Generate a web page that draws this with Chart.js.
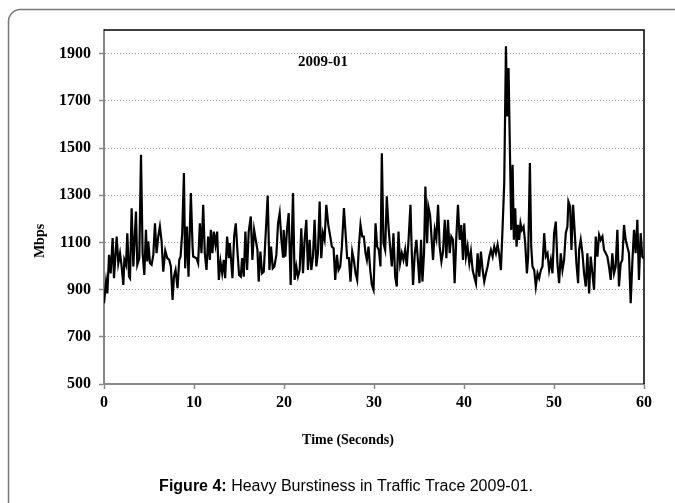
<!DOCTYPE html>
<html>
<head>
<meta charset="utf-8">
<script src="https://cdn.jsdelivr.net/npm/chart.js@4/dist/chart.umd.min.js"></script>
<style>
  html, body { margin: 0; padding: 0; background: #fff; }
  #wrap { width: 675px; height: 503px; }
</style>
</head>
<body>
<div id="wrap"><canvas id="trace" width="675" height="503"></canvas></div>
<script>
// time in seconds and throughput in Mbps
var timeSec = [
  0.0, 0.23, 0.37, 0.56, 0.74, 0.96, 1.11, 1.41, 1.59, 1.78, 1.96, 2.15, 2.26, 2.44, 2.59, 2.78, 2.89, 3.07, 3.26, 3.55,
  3.7, 3.92, 4.11, 4.29, 4.48, 4.66, 4.81, 4.92, 5.11, 5.29, 5.48, 5.66, 5.84, 6.03, 6.21, 6.4, 6.58, 6.81, 7.03, 7.25,
  7.43, 7.62, 7.77, 7.95, 8.17, 8.36, 8.51, 8.69, 8.88, 9.02, 9.21, 9.39, 9.65, 9.84,
  9.91, 10.28, 10.46, 10.65, 10.83, 11.02, 11.2, 11.39, 11.57, 11.76, 11.87, 12.05, 12.2, 12.39, 12.57, 12.76, 12.94, 13.13,
  13.31, 13.46, 13.68, 13.87, 13.98, 14.12, 14.27, 14.46, 14.64, 14.83, 15.01, 15.2, 15.34, 15.53, 15.71, 15.9, 16.08,
  16.31, 16.49, 16.68, 16.86, 17.05, 17.19, 17.38, 17.56, 17.75, 17.93, 18.19, 18.38, 18.56, 18.75, 18.93, 19.15, 19.34,
  19.52, 19.71, 19.89,
  19.96, 20.15, 20.33, 20.52, 20.74, 21.0, 21.18, 21.37, 21.55, 21.74, 21.92, 22.11, 22.29, 22.48, 22.66, 22.85, 23.03,
  23.22, 23.4, 23.59, 23.77, 23.96, 24.14, 24.33, 24.51, 24.7, 24.92, 25.14, 25.32, 25.51, 25.69, 25.88, 26.06, 26.25,
  26.43, 26.66, 26.84, 27.02, 27.21, 27.39, 27.58, 27.76, 27.95, 28.13, 28.32, 28.5, 28.69, 28.87, 29.06, 29.21, 29.39,
  29.58, 29.76, 29.95,
  30.17, 30.35, 30.54, 30.72, 30.87, 31.05, 31.24, 31.42, 31.61, 31.79, 31.98, 32.16, 32.35, 32.53, 32.72, 32.9, 33.09,
  33.27, 33.46, 33.64, 33.83, 34.05, 34.2, 34.34, 34.53, 34.71, 34.9, 35.05, 35.23, 35.38, 35.56, 35.71, 35.9, 36.04,
  36.23, 36.41, 36.56, 36.75, 36.93, 37.12, 37.3, 37.49, 37.67, 37.86, 38.04, 38.22, 38.41, 38.59, 38.78, 38.96, 39.15,
  39.33, 39.52, 39.7, 39.89,
  40.03, 40.22, 40.4, 40.59, 40.77, 40.96, 41.14, 41.33, 41.51, 41.7, 41.88, 42.07, 42.25, 42.44, 42.62, 42.81, 42.99,
  43.18, 43.36, 43.55, 43.73, 43.92, 44.1, 44.29, 44.47, 44.66, 44.8, 44.95, 45.1, 45.25, 45.4, 45.54, 45.69, 45.84,
  45.99, 46.13, 46.28, 46.43, 46.62, 46.8, 46.99, 47.13, 47.32, 47.47, 47.61, 47.8, 47.98, 48.17, 48.35, 48.54, 48.72,
  48.91, 49.09, 49.28, 49.46, 49.65, 49.83,
  50.01, 50.2, 50.38, 50.57, 50.75, 50.94, 51.12, 51.31, 51.49, 51.6, 51.79, 51.94, 52.12, 52.31, 52.49, 52.68, 52.79,
  52.97, 53.16, 53.34, 53.53, 53.71, 53.9, 54.08, 54.27, 54.45, 54.64, 54.82, 55.01, 55.19, 55.38, 55.56, 55.75, 55.93,
  56.11, 56.3, 56.48, 56.67, 56.85, 57.04, 57.22, 57.41, 57.59, 57.78, 57.96, 58.15, 58.33, 58.52, 58.7, 58.89, 59.07,
  59.26, 59.44, 59.63, 59.81, 60.0
];
var mbps = [
  842, 934, 884, 1047, 969, 1118, 948, 1125, 1012, 1054, 998, 920, 1026, 1005, 1139, 955, 948, 1245, 998, 1231,
  1005, 1033, 1471, 1054, 962, 1153, 1019, 1104, 1012, 1005, 1047, 1181, 1054, 1125, 1167, 1104, 976, 1065, 1033, 1026,
  998, 856, 955, 983, 906, 1026, 1040, 1139, 1394, 990, 1167, 955, 1309, 1082,
  1040, 1033, 1012, 1181, 1054, 1259, 1054, 983, 1125, 1026, 1153, 1054, 1146, 1090, 1146, 941, 1019, 969,
  1026, 948, 1125, 1033, 1097, 1026, 948, 1125, 1181, 1061, 962, 955, 1033, 955, 1146, 983, 1146,
  1210, 1026, 1153, 1111, 1068, 934, 1061, 969, 976, 1111, 1299, 983, 1082, 990, 998, 1047, 1181,
  1224, 1111, 1040,
  1153, 1040, 1153, 1224, 920, 1309, 941, 998, 955, 983, 1160, 969, 1111, 1196, 983, 1111, 983,
  1040, 1196, 998, 1054, 1273, 1033, 1139, 1111, 1259, 1174, 1125, 1082, 1075, 941, 1047, 983, 998,
  1082, 1245, 1139, 1033, 1033, 934, 1061, 1026, 969, 941, 1082, 1174, 1125, 1125, 1054, 1026, 1082,
  983, 920, 899,
  1181, 1082, 1068, 998, 1478, 1097, 1068, 1295, 1167, 1082, 998, 1139, 955, 913, 1146, 1012, 1054,
  1026, 1068, 998, 1104, 1259, 1054, 920, 1054, 1111, 1012, 927, 1111, 934, 1054, 1337, 1097, 1252,
  1217, 1111, 1026, 1153, 1118, 1259, 1082, 1019, 1061, 1196, 1033, 1196, 1054, 1125, 1111, 927, 1125,
  1259, 1111, 1174, 1026,
  1181, 1040, 1082, 1012, 1061, 983, 955, 927, 1054, 955, 1061, 983, 934, 969, 998, 1040, 1068,
  1040, 1082, 1054, 1090, 1047, 983, 1167, 1351, 1931, 1634, 1839, 1493, 1153, 1429, 1111, 1245, 1082,
  1174, 1111, 1181, 1153, 1167, 1097, 969, 1040, 1436, 1082, 998, 983, 913, 969, 948, 983, 998,
  1139, 1040, 1054, 983, 1026, 969,
  1139, 1188, 1012, 927, 1054, 983, 1026, 1139, 1167, 1273, 1252, 1068, 1259, 1139, 1012, 927, 1068,
  1111, 1054, 969, 913, 1054, 884, 1040, 969, 899, 1125, 1040, 1132, 1111, 1125, 1068, 1054, 1040,
  998, 941, 1054, 969, 998, 1153, 913, 1012, 1026, 1174, 1111, 1082, 1054, 842, 1012, 1153, 1054,
  1196, 941, 1139, 1040, 1030
];
var xTicks = [0, 10, 20, 30, 40, 50, 60];
var yTicks = [500, 700, 900, 1100, 1300, 1500, 1700, 1900];

var serifBold = { family: "'Liberation Serif', 'Times New Roman', serif", size: 16, weight: "bold" };

// frame, labels and caption drawn on top of the chart
var decorPlugin = {
  id: "decor",
  afterDraw: function (chart) {
    var ctx = chart.ctx;
    var area = chart.chartArea;
    ctx.save();
    // outer rounded box
    ctx.strokeStyle = "#777";
    ctx.lineWidth = 1.5;
    ctx.beginPath();
    ctx.moveTo(8.5, 510);
    ctx.lineTo(8.5, 21);
    ctx.arcTo(8.5, 9.5, 20, 9.5, 12);
    ctx.lineTo(680, 9.5);
    ctx.stroke();
    // black top and right edge of the plot
    ctx.strokeStyle = "#000";
    ctx.lineWidth = 1.5;
    ctx.beginPath();
    ctx.moveTo(area.left, area.top);
    ctx.lineTo(area.right, area.top);
    ctx.lineTo(area.right, area.bottom);
    ctx.stroke();

    ctx.fillStyle = "#000";
    ctx.textAlign = "center";
    ctx.textBaseline = "middle";
    ctx.font = "bold 15px 'Liberation Serif', serif";
    ctx.fillText("2009-01", 323, 62);

    ctx.font = "bold 14px 'Liberation Serif', serif";
    ctx.fillText("Time (Seconds)", 348, 440);
    ctx.save();
    ctx.translate(40, 241);
    ctx.rotate(-Math.PI / 2);
    ctx.fillText("Mbps", 0, 0);
    ctx.restore();

    // caption
    var part1 = "Figure 4:";
    var part2 = " Heavy Burstiness in Traffic Trace 2009-01.";
    ctx.font = "bold 16px 'Liberation Sans', Arial, sans-serif";
    var w1 = ctx.measureText(part1).width;
    ctx.font = "16px 'Liberation Sans', Arial, sans-serif";
    var w2 = ctx.measureText(part2).width;
    var x0 = 346 - (w1 + w2) / 2;
    ctx.textAlign = "left";
    ctx.font = "bold 16px 'Liberation Sans', Arial, sans-serif";
    ctx.fillText(part1, x0, 487);
    ctx.font = "16px 'Liberation Sans', Arial, sans-serif";
    ctx.fillText(part2, x0 + w1, 487);
    ctx.restore();
  },
};

var points = timeSec.map(function (t, i) {
  return { x: t, y: mbps[i] };
});

var ctx = document.getElementById("trace").getContext("2d");
var myChart = new Chart(ctx, {
  type: "line",
  data: {
    datasets: [
      {
        label: "2009-01",
        data: points,
        borderColor: "#000",
        borderWidth: 2.2,
        pointRadius: 0,
        tension: 0,
        fill: false,
      },
    ],
  },
  options: {
    responsive: false,
    animation: false,
    layout: { padding: { left: 0, top: 30, right: 31, bottom: 0 } },
    plugins: {
      legend: { display: false },
      tooltip: { enabled: false },
    },
    scales: {
      x: {
        type: "linear",
        min: 0,
        max: 60,
        afterBuildTicks: function (scale) {
          scale.ticks = xTicks.map(function (v) { return { value: v }; });
        },
        afterFit: function (scale) {
          scale.height = 119;
        },
        ticks: {
          font: serifBold,
          color: "#000",
          padding: 4,
          maxRotation: 0,
          callback: function (value) { return String(value); },
        },
        grid: { drawOnChartArea: false, drawTicks: true, tickLength: 5, tickColor: "#888", tickWidth: 1.5 },
        border: { color: "#888", width: 2 },
      },
      y: {
        min: 500,
        max: 2000,
        afterBuildTicks: function (scale) {
          scale.ticks = yTicks.map(function (v) { return { value: v }; });
        },
        afterFit: function (scale) {
          scale.width = 104;
        },
        ticks: {
          font: serifBold,
          color: "#000",
          padding: 8,
          callback: function (value) { return String(value); },
        },
        grid: { color: "#999", lineWidth: 1, drawTicks: true, tickLength: 5, tickColor: "#888", tickWidth: 1.5 },
        border: { color: "#888", width: 2, dash: [1, 2] },
      },
    },
  },
  plugins: [decorPlugin],
});
</script>
</body>
</html>
